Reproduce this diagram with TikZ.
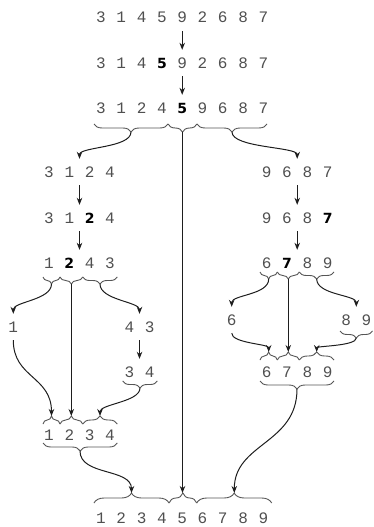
\documentclass[tikz,border=0pt]{standalone}
\usepackage{fontspec}
\usetikzlibrary{arrows.meta,decorations.pathreplacing}
\newfontfamily\monodig{Liberation Mono}
\newfontfamily\sansdig{DejaVu Sans}
\definecolor{digc}{RGB}{80,80,80}
\definecolor{linec}{RGB}{30,30,30}
\definecolor{bracec}{RGB}{85,85,85}
\newcommand\dg[1]{\makebox[20.3pt]{#1}}
\newcommand\bd[1]{\makebox[20.3pt]{\sansdig\bfseries\fontsize{14pt}{14pt}\selectfont\color{black}#1}}
\begin{document}
\begin{tikzpicture}[x=1pt,y=-1pt,
 dig/.style={font=\monodig\fontsize{16pt}{16pt}\selectfont, text=digc, text height=10pt, text depth=0pt, inner xsep=0pt, inner ysep=8pt},
 arr/.style={draw=linec, line width=1pt, -{Stealth[length=7pt,width=5.5pt]}},
 bdown/.style={draw=bracec, line width=0.9pt, decorate, decoration={brace,mirror,amplitude=#1}},
 bup/.style={draw=bracec, line width=0.9pt, decorate, decoration={brace,amplitude=#1}}]
\useasboundingbox (0,0) rectangle (373,527);

% rows
\node[dig] (r1) at (182.2,18) {\dg3\dg1\dg4\dg5\dg9\dg2\dg6\dg8\dg7};
\node[dig] (r2) at (182.2,63) {\dg3\dg1\dg4\bd5\dg9\dg2\dg6\dg8\dg7};
\node[dig] (r3) at (182.2,108) {\dg3\dg1\dg2\dg4\bd5\dg9\dg6\dg8\dg7};
\node[dig] (l1) at (79.5,172) {\dg3\dg1\dg2\dg4};
\node[dig] (l2) at (79.5,218) {\dg3\dg1\bd2\dg4};
\node[dig] (l3) at (79.5,263) {\dg1\bd2\dg4\dg3};
\node[dig] (s1) at (13.3,327) {\dg1};
\node[dig] (s43) at (139.5,327) {\dg4\dg3};
\node[dig] (s34) at (139.5,372) {\dg3\dg4};
\node[dig] (m) at (79.5,435) {\dg1\dg2\dg3\dg4};
\node[dig] (q1) at (297.2,172) {\dg9\dg6\dg8\dg7};
\node[dig] (q2) at (297.2,218) {\dg9\dg6\dg8\bd7};
\node[dig] (q3) at (297.2,263) {\dg6\bd7\dg8\dg9};
\node[dig] (s6) at (231.7,320) {\dg6};
\node[dig] (s89) at (356.3,320) {\dg8\dg9};
\node[dig] (qm) at (297.2,372) {\dg6\dg7\dg8\dg9};
\node[dig] (f) at (182.2,518) {\dg1\dg2\dg3\dg4\dg5\dg6\dg7\dg8\dg9};

% braces under row 3
\draw[bdown=8pt] (94,124) -- (168,124);
\draw[bdown=8pt] (168,124) -- (197,124);
\draw[bdown=8pt] (197,124) -- (267,124);
\coordinate (t3a) at (131,132);
\coordinate (t3b) at (182.5,132);
\coordinate (t3c) at (232,132);

% braces under l3
\draw[bdown=7pt] (43,277) -- (60,277);
\draw[bdown=7pt] (60,277) -- (82.7,277);
\draw[bdown=7pt] (82.7,277) -- (117.3,277);
\coordinate (l3a) at (51.5,284);
\coordinate (l3b) at (71.3,284);
\coordinate (l3c) at (100,284);

% brace under 3 4
\draw[bdown=7pt] (122.7,381) -- (157.3,381);
\coordinate (s34t) at (140,388);

% braces around m
\draw[bup=8pt] (43,424) -- (60,424);
\draw[bup=8pt] (60,424) -- (82.7,424);
\draw[bup=8pt] (82.7,424) -- (117.3,424);
\coordinate (ma) at (51.5,416);
\coordinate (mb) at (71.3,416);
\coordinate (mc) at (100,416);
\draw[bdown=8pt] (43,443) -- (117.3,443);
\coordinate (mt) at (80,451);

% braces under q3
\draw[bdown=7pt] (260,272) -- (277.3,272);
\draw[bdown=7pt] (277.3,272) -- (299.3,272);
\draw[bdown=7pt] (299.3,272) -- (334,272);
\coordinate (q3a) at (268.7,279);
\coordinate (q3b) at (288.3,279);
\coordinate (q3c) at (316.7,279);

% brace under 8 9
\draw[bdown=7pt] (340,331) -- (372.5,331);
\coordinate (s89t) at (356.3,338);

% braces around qm
\draw[bup=8pt] (260,360) -- (277.3,360);
\draw[bup=8pt] (277.3,360) -- (299.3,360);
\draw[bup=8pt] (299.3,360) -- (334,360);
\coordinate (qma) at (268.7,352);
\coordinate (qmb) at (288.3,352);
\coordinate (qmc) at (316.7,352);
\draw[bdown=8pt] (260,381) -- (334,381);
\coordinate (qmt) at (297,389);

% final braces
\draw[bup=10pt] (94,503) -- (169,503);
\draw[bup=10pt] (169,503) -- (196.7,503);
\draw[bup=10pt] (196.7,503) -- (271.7,503);
\coordinate (fa) at (131.5,493);
\coordinate (fb) at (182.5,493);
\coordinate (fc) at (234.3,493);

% vertical arrows between rows
\draw[arr] (r1.south) -- (r2.north);
\draw[arr] (r2.south) -- (r3.north);
\draw[arr] (l1.south) -- (l2.north);
\draw[arr] (l2.south) -- (l3.north);
\draw[arr] (q1.south) -- (q2.north);
\draw[arr] (q2.south) -- (q3.north);
\draw[arr] (s43.south) -- (s34.north);

% split arrows
\draw[arr] (t3a) .. controls +(0,16) and +(0,-12) .. (l1.north);
\draw[arr] (t3c) .. controls +(0,16) and +(0,-12) .. (q1.north);
\draw[arr] (t3b) -- (fb);
\draw[arr] (l3a) .. controls +(0,16) and +(0,-12) .. (s1.north);
\draw[arr] (l3c) .. controls +(0,16) and +(0,-12) .. (s43.north);
\draw[arr] (l3b) -- (mb);
\draw[arr] (q3a) .. controls +(0,16) and +(0,-12) .. (s6.north);
\draw[arr] (q3c) .. controls +(0,16) and +(0,-12) .. (s89.north);
\draw[arr] (q3b) -- (qmb);

% merge arrows
\draw[arr] (s1.south) .. controls +(0,38) and +(0,-40) .. (ma);
\draw[arr] (s34t) .. controls +(0,14) and +(0,-12) .. (mc);
\draw[arr] (mt) .. controls +(0,25) and +(0,-25) .. (fa);
\draw[arr] (s6.south) .. controls +(0,10) and +(0,-8) .. (qma);
\draw[arr] (s89t) .. controls +(0,8) and +(0,-6) .. (qmc);
\draw[arr] (qmt) .. controls +(0,55) and +(0,-50) .. (fc);
\end{tikzpicture}
\end{document}
